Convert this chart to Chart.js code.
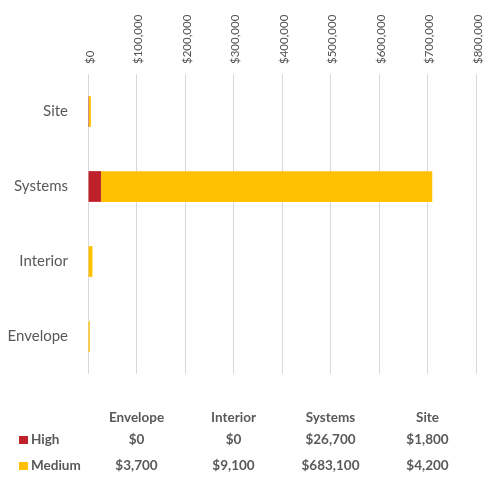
<!DOCTYPE html>
<html>
<head>
<meta charset="utf-8">
<script src="https://cdn.jsdelivr.net/npm/chart.js@4"></script>
<style>
    html, body { margin: 0; padding: 0; background: #fff; }
    #wrap { width: 483px; height: 477px; }
</style>
</head>
<body>
<div id="wrap"><canvas id="costChart" width="483" height="477"></canvas></div>
<script>
const categories = ['Envelope', 'Interior', 'Systems', 'Site'];
const highValues = [0, 0, 26700, 1800];
const mediumValues = [3700, 9100, 683100, 4200];
const seriesNames = ['High', 'Medium'];
const seriesColors = ['#C0202A', '#FFC000'];
const tickValues = [0, 100000, 200000, 300000, 400000, 500000, 600000, 700000, 800000];

const textGray = '#595959';
const fontFamily = "Lato, 'Open Sans', sans-serif";

function money(v) {
    return '$' + Math.round(v).toLocaleString('en-US');
}

// Draws the data table under the plot (Excel style)
const dataTablePlugin = {
    id: 'dataTable',
    afterDraw(chart) {
        const ctx = chart.ctx;
        const area = chart.chartArea;
        const colW = (area.right - area.left) / categories.length;
        const rows = [highValues, mediumValues];
        const rowY = [440, 466];

        ctx.save();
        ctx.fillStyle = textGray;
        ctx.font = 'bold 13.5px ' + fontFamily;
        ctx.textBaseline = 'middle';
        ctx.textAlign = 'center';

        categories.forEach((cat, i) => {
            ctx.fillText(cat, area.left + colW * (i + 0.5), 418);
        });

        rows.forEach((vals, r) => {
            ctx.fillStyle = seriesColors[r];
            ctx.fillRect(19, rowY[r] - 4, 9, 8);
            ctx.fillStyle = textGray;
            ctx.textAlign = 'left';
            ctx.fillText(seriesNames[r], 31, rowY[r]);
            ctx.textAlign = 'center';
            vals.forEach((v, i) => {
                ctx.fillText(money(v), area.left + colW * (i + 0.5), rowY[r]);
            });
        });
        ctx.restore();
    }
};

document.addEventListener('DOMContentLoaded', () => {
    const ctx = document.getElementById('costChart').getContext('2d');

    new Chart(ctx, {
        type: 'bar',
        data: {
            labels: categories,
            datasets: [
                {
                    label: seriesNames[0],
                    data: highValues,
                    backgroundColor: seriesColors[0],
                    borderWidth: 0
                },
                {
                    label: seriesNames[1],
                    data: mediumValues,
                    backgroundColor: seriesColors[1],
                    borderWidth: 0
                }
            ]
        },
        options: {
            indexAxis: 'y',
            responsive: false,
            animation: false,
            layout: {
                padding: { top: 0, right: 7, bottom: 103, left: 0 }
            },
            plugins: {
                legend: { display: false },
                tooltip: { enabled: false }
            },
            datasets: {
                bar: { categoryPercentage: 1, barPercentage: 0.41 }
            },
            scales: {
                x: {
                    position: 'top',
                    stacked: true,
                    min: 0,
                    max: 800000,
                    afterBuildTicks: (scale) => {
                        scale.ticks = tickValues.map(v => ({ value: v }));
                    },
                    afterFit: (scale) => {
                        scale.height = 74;
                        scale.paddingLeft = 0;
                        scale.paddingRight = 0;
                    },
                    grid: { color: '#D9D9D9', drawTicks: false, lineWidth: 1 },
                    border: { display: false },
                    ticks: {
                        minRotation: 90,
                        maxRotation: 90,
                        padding: 10,
                        labelOffset: 16,
                        color: '#505050',
                        font: { family: fontFamily, size: 11.5 },
                        callback: (v) => money(v)
                    }
                },
                y: {
                    stacked: true,
                    reverse: true,
                    afterFit: (scale) => { scale.width = 88; },
                    grid: { display: false, drawTicks: false },
                    border: { display: false },
                    ticks: {
                        padding: 20,
                        color: textGray,
                        font: { family: fontFamily, size: 15 }
                    }
                }
            }
        },
        plugins: [dataTablePlugin]
    });
});
</script>
</body>
</html>
